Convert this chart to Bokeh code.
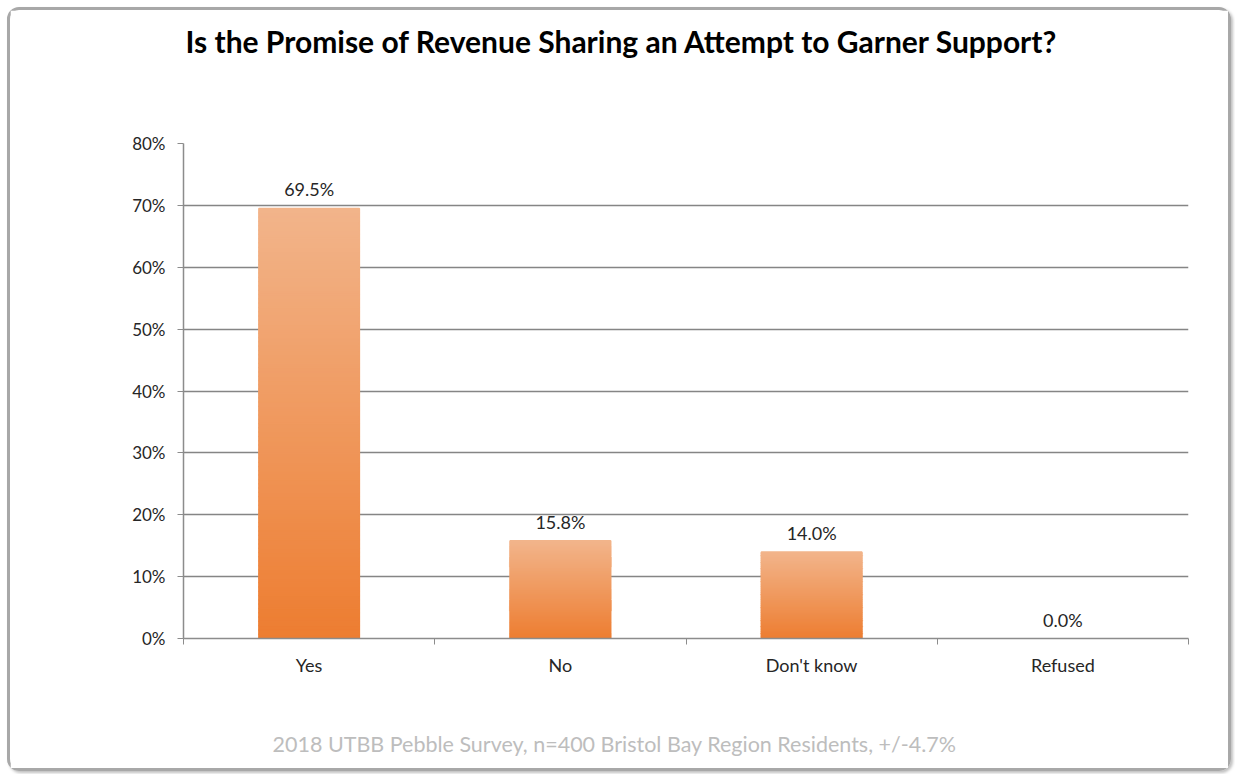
from bokeh.plotting import figure
from bokeh.models import (ColumnDataSource, FixedTicker, NumeralTickFormatter,
                          Range1d, LabelSet, Title)
from bokeh.core.properties import value
from bokeh.embed import file_html
from bokeh.resources import INLINE

# ---- data ----
categories = ["Yes", "No", "Don't know", "Refused"]
values = [0.695, 0.158, 0.140, 0.0]
value_labels = ["69.5%", "15.8%", "14.0%", "0.0%"]
y_ticks = [0.0, 0.1, 0.2, 0.3, 0.4, 0.5, 0.6, 0.7, 0.8]
title_text = "Is the Promise of Revenue Sharing an Attempt to Garner Support?"
footer_text = "2018 UTBB Pebble Survey, n=400 Bristol Bay Region Residents, +/-4.7%"

FONT = "Lato"
TOP_C = (242, 180, 138)
BOT_C = (237, 125, 49)

p = figure(width=1224, height=764, output_backend="svg", toolbar_location=None,
           x_range=Range1d(0, len(categories)), y_range=Range1d(0, 0.8),
           min_border_left=173, min_border_right=46, min_border_top=133,
           min_border_bottom=136)
p.styles = {"border": "3px solid #a8a8a8", "border-radius": "12px",
            "box-shadow": "2px 2px 3px rgba(0,0,0,0.25)", "margin": "7px"}
p.outline_line_color = None
p.background_fill_color = "white"
p.border_fill_color = "white"

# gradient bars: stacked slices of each bar
N = 100
xs, bottoms, tops, colors = [], [], [], []
for i, v in enumerate(values):
    if v <= 0:
        continue
    for k in range(N):
        t = k / (N - 1)
        xs.append(i + 0.5)
        bottoms.append(v * k / N)
        tops.append(v * (k + 1) / N)
        c = tuple(int(round(BOT_C[j] + (TOP_C[j] - BOT_C[j]) * t)) for j in range(3))
        colors.append("#%02x%02x%02x" % c)
src = ColumnDataSource(dict(x=xs, bottom=bottoms, top=tops, color=colors))
p.vbar(x="x", bottom="bottom", top="top", width=0.4, fill_color="color",
       line_color="color", line_width=1.5, source=src)

centers = [i + 0.5 for i in range(len(categories))]
lab_src = ColumnDataSource(dict(x=centers, y=values, text=value_labels))
p.add_layout(LabelSet(x="x", y="y", text="text", source=lab_src, y_offset=8,
                      text_align="center", text_baseline="bottom",
                      text_font=value(FONT), text_font_size=value("18px"),
                      text_color="#262626"))

# axes
xa = p.xaxis[0]
xa.ticker = FixedTicker(ticks=centers, minor_ticks=list(range(len(categories) + 1)))
xa.major_label_overrides = {c: cat for c, cat in zip(centers, categories)}
xa.major_tick_line_color = None
xa.minor_tick_line_color = "#8c8c8c"
xa.minor_tick_in = 0
xa.minor_tick_out = 6
xa.axis_line_color = "#8c8c8c"
xa.axis_line_width = 1.5
xa.major_label_text_font = FONT
xa.major_label_text_font_size = "18px"
xa.major_label_text_color = "#262626"
xa.major_label_standoff = 9

ya = p.yaxis[0]
ya.ticker = FixedTicker(ticks=y_ticks)
ya.formatter = NumeralTickFormatter(format="0%")
ya.major_tick_in = 0
ya.major_tick_out = 6
ya.major_tick_line_color = "#8c8c8c"
ya.minor_tick_line_color = None
ya.axis_line_color = "#8c8c8c"
ya.axis_line_width = 1.5
ya.major_label_text_font = FONT
ya.major_label_text_font_size = "17px"
ya.major_label_text_color = "#262626"
ya.major_label_standoff = 12

p.xgrid.grid_line_color = None
p.ygrid.grid_line_color = "#858585"
p.ygrid.grid_line_width = 1.3

# title (with a spacer between it and the plot area)
p.add_layout(Title(text=" ", text_font_size="10px", standoff=60), "above")
p.add_layout(Title(text=title_text, align="left", offset=2, vertical_align="top",
                   standoff=20, text_font=FONT, text_font_style="bold",
                   text_font_size="30px", text_color="#000000"), "above")

# footer (with a spacer below the x axis)
p.add_layout(Title(text=" ", text_font_size="10px", standoff=34), "below")
p.add_layout(Title(text=footer_text, align="left", offset=89, vertical_align="top",
                   standoff=10, text_font=FONT, text_font_style="normal",
                   text_font_size="21.5px", text_color="#bdbdbd"), "below")

open("out.html", "w").write(file_html(p, INLINE))
